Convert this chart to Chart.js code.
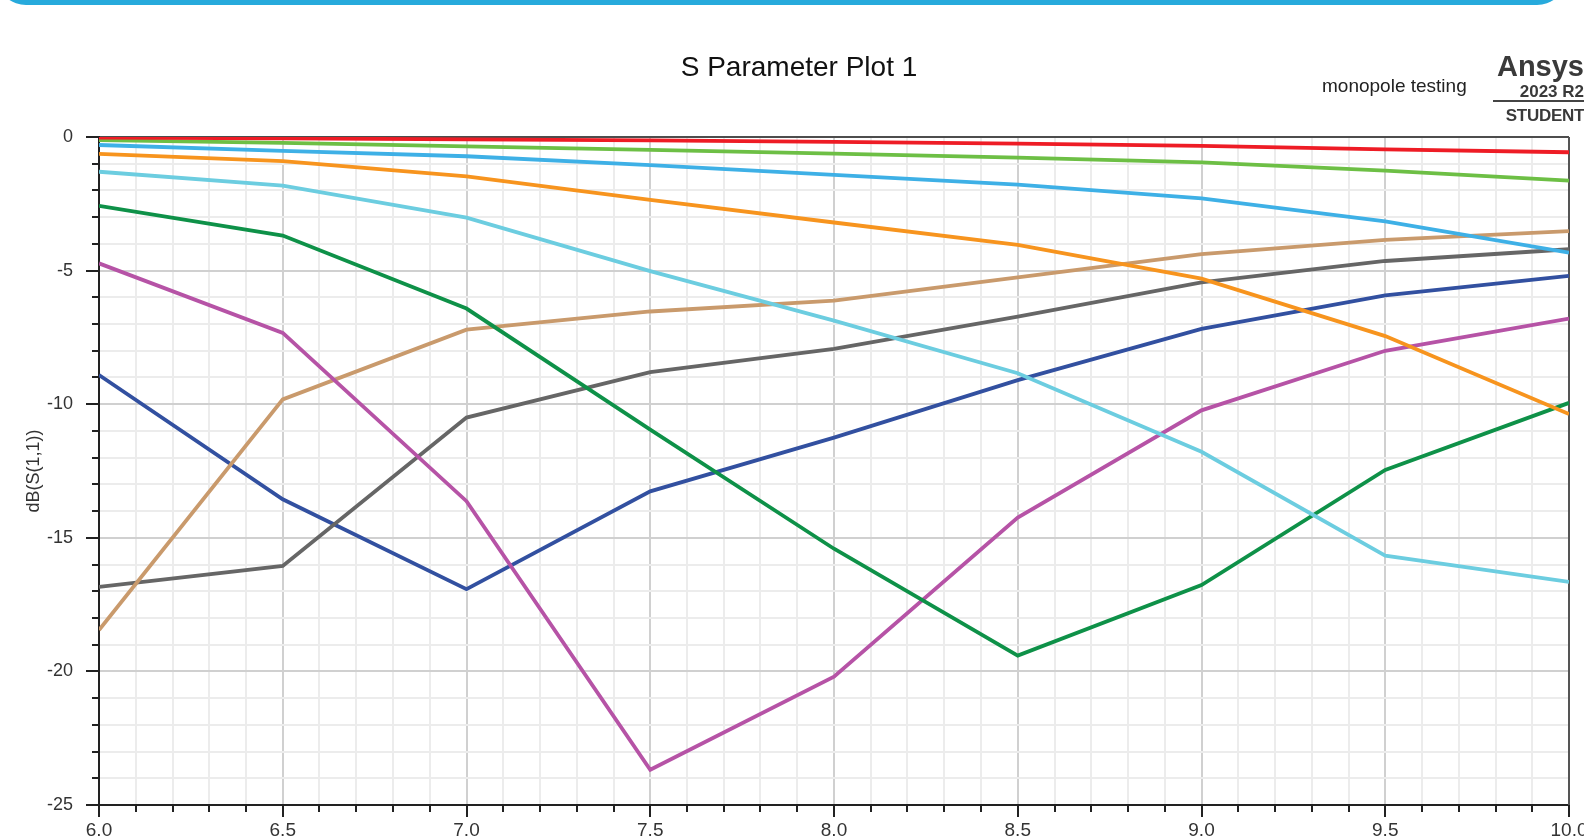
<!DOCTYPE html>
<html>
<head>
<meta charset="utf-8">
<script src="https://cdn.jsdelivr.net/npm/chart.js@4"></script>
<style>
  html, body { margin: 0; padding: 0; background: #fff; overflow: hidden; }
  body { width: 1584px; height: 837px; position: relative; font-family: "Liberation Sans", Arial, sans-serif; }
  #topbar { position: absolute; left: 0; top: -22px; width: 1563px; height: 27px; background: #27aadc; border-radius: 0 0 26px 26px / 0 0 22px 22px; }
  #wrap { position: absolute; left: 0; top: 0; width: 1584px; height: 837px; }
  .txt { position: absolute; white-space: nowrap; }
  #title { left: 0; width: 1598px; text-align: center; top: 53px; font-size: 28px; line-height: 28px; color: #111; }
  #sub { left: 1322px; top: 76px; font-size: 19px; line-height: 19px; color: #222; }
  .logo { right: 0; text-align: right; font-weight: bold; color: #3a3a3a; }
  #ansys { top: 52px; font-size: 29px; line-height: 29px; }
  #ver { top: 83px; font-size: 17px; line-height: 17px; }
  #rule { position: absolute; left: 1493px; top: 100px; width: 91px; height: 1.5px; background: #444; }
  #stud { top: 107px; font-size: 17px; line-height: 17px; letter-spacing: -0.3px; }
</style>
</head>
<body>
<div id="topbar"></div>
<div id="wrap"><canvas id="chart" width="1584" height="837"></canvas></div>
<div class="txt" id="title">S Parameter Plot 1</div>
<div class="txt" id="sub">monopole testing</div>
<div class="txt logo" id="ansys">Ansys</div>
<div class="txt logo" id="ver">2023 R2</div>
<div id="rule"></div>
<div class="txt logo" id="stud">STUDENT</div>
<script>
// Frequency sweep points (GHz)
const freqs = [6.0, 6.5, 7.0, 7.5, 8.0, 8.5, 9.0, 9.5, 10.0];

// dB(S(1,1)) traces, one per parametric variation
const sRed     = [-0.02, -0.05, -0.09, -0.13, -0.18, -0.25, -0.33, -0.46, -0.57];
const sLime    = [-0.12, -0.22, -0.35, -0.48, -0.62, -0.77, -0.95, -1.26, -1.63];
const sSky     = [-0.30, -0.52, -0.72, -1.05, -1.42, -1.78, -2.30, -3.16, -4.33];
const sOrange  = [-0.63, -0.90, -1.47, -2.35, -3.20, -4.04, -5.30, -7.45, -10.37];
const sCyan    = [-1.30, -1.82, -3.02, -5.02, -6.87, -8.84, -11.78, -15.67, -16.65];
const sGreen   = [-2.58, -3.69, -6.42, -10.95, -15.41, -19.41, -16.77, -12.46, -9.95];
const sMagenta = [-4.73, -7.33, -13.63, -23.68, -20.20, -14.24, -10.23, -8.00, -6.80];
const sTan     = [-18.45, -9.82, -7.21, -6.53, -6.12, -5.25, -4.38, -3.85, -3.52];
const sGray    = [-16.84, -16.05, -10.50, -8.80, -7.93, -6.72, -5.44, -4.64, -4.20];
const sNavy    = [-8.91, -13.56, -16.92, -13.26, -11.25, -9.10, -7.18, -5.93, -5.20];

// Axis ranges and labelled tick values
const xMin = 6.0, xMax = 10.0, xMinorStep = 0.1, xMajorStep = 0.5;
const yMin = -25, yMax = 0, yMinorStep = 1, yMajorStep = 5;

const traces = [
  { data: sRed,     color: '#ee1c25' },
  { data: sLime,    color: '#6dbf45' },
  { data: sSky,     color: '#3eb0e6' },
  { data: sOrange,  color: '#f7941e' },
  { data: sCyan,    color: '#6ccde0' },
  { data: sGreen,   color: '#0e9148' },
  { data: sMagenta, color: '#b653a6' },
  { data: sTan,     color: '#c99a6c' },
  { data: sGray,    color: '#666666' },
  { data: sNavy,    color: '#3250a0' }
];

const isMultiple = (v, step) => Math.abs(v / step - Math.round(v / step)) < 1e-6;

// Minor tick marks and the frame around the plotting area
const framePlugin = {
  id: 'frame',
  beforeDatasetsDraw(chart) {
    const { ctx, chartArea: a } = chart;
    ctx.save();
    ctx.strokeStyle = '#222';
    ctx.lineWidth = 1.5;
    ctx.beginPath();
    ctx.moveTo(a.left, a.top);
    ctx.lineTo(a.right, a.top);
    ctx.stroke();
    ctx.strokeStyle = '#555';
    ctx.lineWidth = 2;
    ctx.beginPath();
    ctx.moveTo(a.right, a.top);
    ctx.lineTo(a.right, a.bottom);
    ctx.stroke();
    ctx.restore();
  },
  afterDraw(chart) {
    const { ctx, chartArea: a, scales } = chart;
    ctx.save();
    ctx.strokeStyle = '#222';
    ctx.lineWidth = 2;
    ctx.beginPath();
    scales.x.ticks.forEach(t => {
      if (isMultiple(t.value, xMajorStep)) return;
      const px = Math.round(scales.x.getPixelForValue(t.value));
      ctx.moveTo(px, a.bottom);
      ctx.lineTo(px, a.bottom + 7);
    });
    scales.y.ticks.forEach(t => {
      if (isMultiple(t.value, yMajorStep)) return;
      const py = Math.round(scales.y.getPixelForValue(t.value));
      ctx.moveTo(a.left - 7, py);
      ctx.lineTo(a.left, py);
    });
    ctx.stroke();
    ctx.restore();
  }
};

const tickFontY = { family: '"Liberation Sans", Arial, sans-serif', size: 18 };
const tickFontX = { family: '"Liberation Sans", Arial, sans-serif', size: 19 };

new Chart(document.getElementById('chart'), {
  type: 'line',
  data: {
    datasets: traces.map(t => ({
      data: freqs.map((f, i) => ({ x: f, y: t.data[i] })),
      borderColor: t.color,
      backgroundColor: t.color,
      borderWidth: 3.8,
      pointRadius: 0,
      tension: 0,
      fill: false
    }))
  },
  options: {
    responsive: false,
    animation: false,
    events: [],
    layout: { padding: { top: 137, right: 15, left: 0, bottom: 0 } },
    plugins: { legend: { display: false }, tooltip: { enabled: false }, title: { display: false } },
    scales: {
      x: {
        type: 'linear',
        min: xMin, max: xMax,
        afterFit(s) { s.height = 32; s.paddingLeft = 0; s.paddingRight = 0; },
        border: { display: true, color: '#222', width: 2 },
        grid: {
          color: c => isMultiple(c.tick.value, xMajorStep) ? '#d0d0d0' : '#ececec',
          lineWidth: 2,
          tickColor: c => isMultiple(c.tick.value, xMajorStep) ? '#222' : 'rgba(0,0,0,0)',
          tickLength: 12,
          tickWidth: 2
        },
        ticks: {
          stepSize: xMinorStep,
          autoSkip: false,
          maxRotation: 0,
          padding: 2,
          color: '#333',
          font: tickFontX,
          callback: v => isMultiple(v, xMajorStep) ? v.toFixed(1) : ''
        }
      },
      y: {
        type: 'linear',
        min: yMin, max: yMax,
        afterFit(s) { s.width = 99; },
        border: { display: true, color: '#222', width: 2 },
        grid: {
          color: c => isMultiple(c.tick.value, yMajorStep) ? '#d0d0d0' : '#ececec',
          lineWidth: 2,
          tickColor: c => isMultiple(c.tick.value, yMajorStep) ? '#222' : 'rgba(0,0,0,0)',
          tickLength: 13,
          tickWidth: 2
        },
        ticks: {
          stepSize: yMinorStep,
          autoSkip: false,
          padding: 13,
          color: '#333',
          font: tickFontY,
          callback: v => isMultiple(v, yMajorStep) ? String(v) : ''
        },
        title: {
          display: true,
          text: 'dB(S(1,1))',
          color: '#333',
          font: { family: '"Liberation Sans", Arial, sans-serif', size: 18 },
          padding: { top: 23, bottom: 0 }
        }
      }
    }
  },
  plugins: [framePlugin]
});
</script>
</body>
</html>
